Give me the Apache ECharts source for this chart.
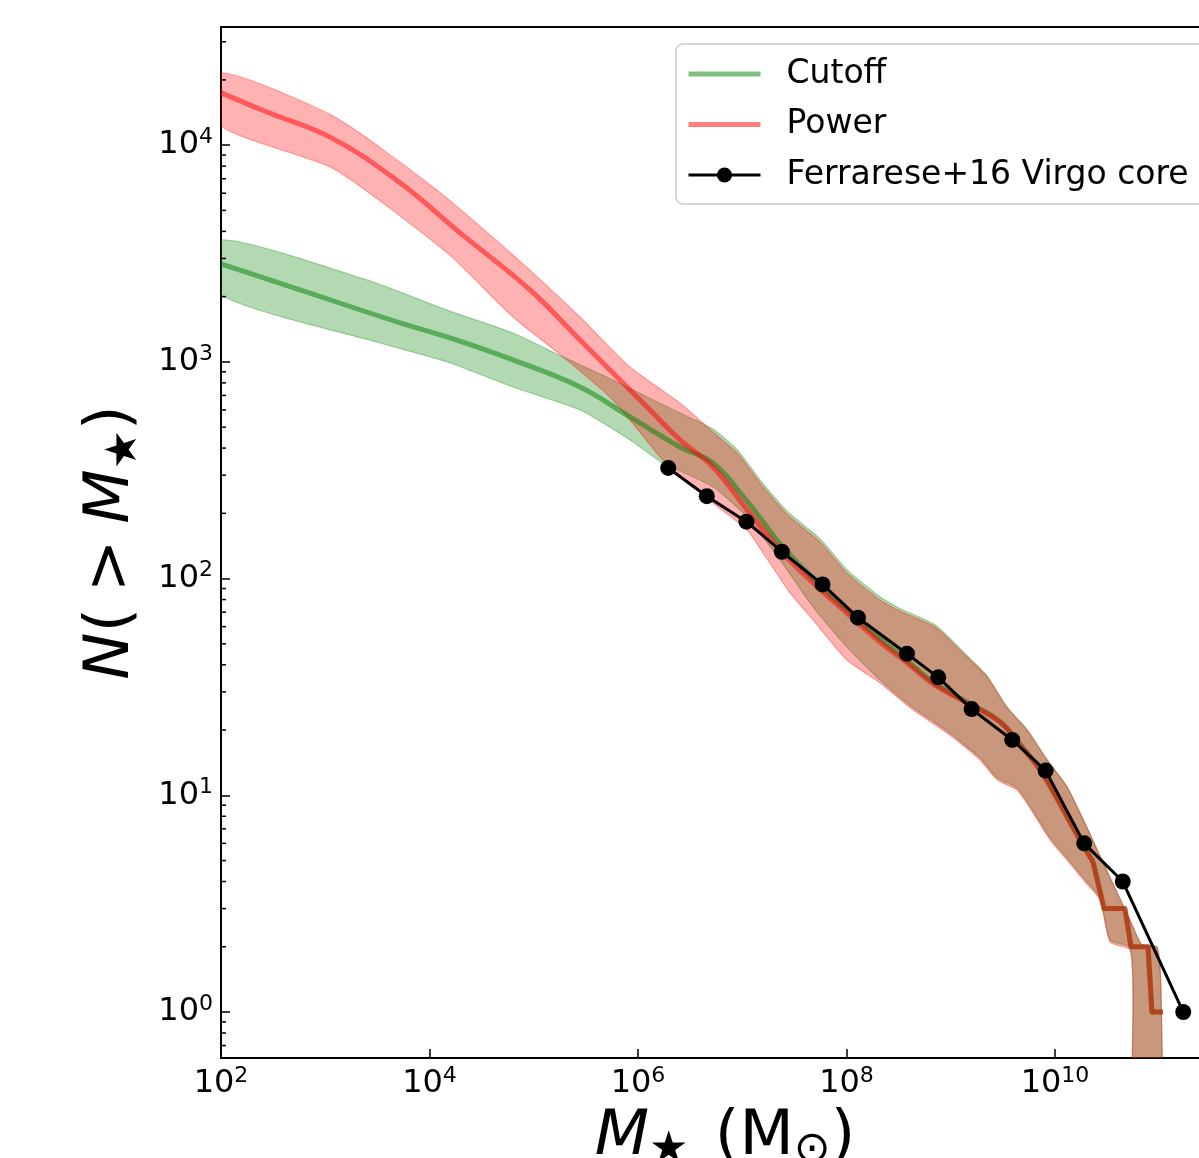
<!DOCTYPE html>
<html>
<head>
<meta charset="utf-8">
<script src="https://cdn.jsdelivr.net/npm/echarts@6/dist/echarts.min.js"></script>
<style>
  html, body { margin: 0; padding: 0; overflow: hidden; background: #fff; }
  #chart { width: 1400px; height: 1158px; }
</style>
</head>
<body>
<div id="chart"></div>
<script>
// Cumulative stellar mass function N(>M*) of Virgo-core satellites:
// model medians with 68% bands (log10 M*, log10 N) and the observed counts.

// Cutoff model
const cutoffMedLogM = [2.000, 2.758, 3.717, 4.168, 4.801, 5.444, 5.923, 6.403, 6.719, 7.046, 7.199, 7.362, 7.679, 8.005, 8.321, 8.580, 8.830, 9.156, 9.472, 9.664, 9.856, 10.000, 10.211, 10.365, 10.470, 10.671, 10.729, 10.892, 10.930, 11.036];
const cutoffMedLogN = [3.452, 3.332, 3.180, 3.115, 3.009, 2.884, 2.746, 2.607, 2.533, 2.357, 2.262, 2.160, 2.000, 1.855, 1.722, 1.622, 1.522, 1.430, 1.340, 1.235, 1.120, 1.003, 0.820, 0.694, 0.477, 0.477, 0.301, 0.301, 0.000, 0.000];
const cutoffHiLogM = [2.000, 3.400, 4.168, 4.801, 5.281, 5.760, 6.403, 6.719, 6.950, 7.199, 7.458, 7.746, 8.005, 8.321, 8.513, 8.849, 9.156, 9.348, 9.540, 9.731, 9.923, 10.115, 10.317, 10.480, 10.719, 10.835, 10.979, 11.017, 11.017];
const cutoffHiLogN = [3.563, 3.378, 3.239, 3.133, 3.023, 2.916, 2.764, 2.690, 2.595, 2.438, 2.299, 2.184, 2.041, 1.916, 1.862, 1.787, 1.645, 1.552, 1.408, 1.305, 1.166, 1.040, 0.842, 0.670, 0.425, 0.309, 0.300, 0.102, -1];
const cutoffLoLogM = [2.000, 3.525, 4.168, 4.801, 5.444, 5.923, 6.240, 6.719, 7.046, 7.362, 7.679, 8.005, 8.321, 8.638, 8.964, 9.281, 9.444, 9.635, 9.789, 9.952, 10.115, 10.288, 10.432, 10.528, 10.719, 10.748, 10.748];
const cutoffLoLogN = [3.309, 3.087, 3.000, 2.884, 2.778, 2.640, 2.533, 2.423, 2.284, 2.086, 1.869, 1.684, 1.532, 1.404, 1.297, 1.173, 1.081, 1.034, 0.928, 0.804, 0.711, 0.610, 0.527, 0.333, 0.296, 0.078, -1];

// Power-law model
const powerMedLogM = [2.000, 2.441, 3.074, 3.717, 4.293, 4.964, 5.444, 5.760, 6.086, 6.403, 6.719, 7.046, 7.362, 7.679, 8.005, 8.321, 8.580, 8.830, 9.156, 9.472, 9.664, 9.856, 10.000, 10.211, 10.365, 10.470, 10.671, 10.729, 10.892, 10.930, 11.036];
const powerMedLogN = [4.241, 4.153, 4.030, 3.826, 3.595, 3.332, 3.101, 2.949, 2.792, 2.640, 2.515, 2.317, 2.132, 1.980, 1.841, 1.707, 1.611, 1.514, 1.426, 1.338, 1.232, 1.117, 1.001, 0.817, 0.692, 0.477, 0.477, 0.301, 0.301, 0.000, 0.000];
const powerHiLogM = [2.000, 3.074, 4.034, 4.801, 5.444, 5.923, 6.403, 6.719, 6.950, 7.199, 7.458, 7.746, 8.005, 8.321, 8.513, 8.849, 9.156, 9.348, 9.540, 9.731, 9.923, 10.115, 10.317, 10.480, 10.719, 10.835, 10.979, 11.017, 11.017];
const powerHiLogN = [4.333, 4.135, 3.807, 3.493, 3.207, 2.976, 2.810, 2.676, 2.580, 2.423, 2.284, 2.169, 2.026, 1.901, 1.850, 1.777, 1.638, 1.546, 1.403, 1.301, 1.163, 1.038, 0.840, 0.669, 0.425, 0.309, 0.300, 0.102, -1];
const powerLoLogM = [2.000, 3.074, 4.168, 4.801, 5.281, 5.760, 6.240, 6.719, 7.046, 7.199, 7.458, 7.679, 8.005, 8.321, 8.638, 8.964, 9.281, 9.444, 9.635, 9.789, 9.952, 10.115, 10.288, 10.432, 10.528, 10.719, 10.748, 10.748];
const powerLoLogN = [4.089, 3.892, 3.503, 3.207, 3.023, 2.824, 2.547, 2.349, 2.224, 2.118, 1.934, 1.809, 1.624, 1.518, 1.394, 1.287, 1.163, 1.071, 1.024, 0.918, 0.794, 0.701, 0.600, 0.517, 0.323, 0.286, 0.078, -1];

// Ferrarese et al. (2016) Virgo core counts
const virgoLogM = [6.29, 6.66, 7.04, 7.38, 7.77, 8.11, 8.58, 8.88, 9.20, 9.59, 9.91, 10.28, 10.65, 11.23];
const virgoN = [324, 240, 183, 133, 94, 66, 45, 35, 25, 18, 13, 6, 4, 1];

// Axis ranges and minor tick positions of the N axis
const xMin = 100, xMax = Math.pow(10, 11.669);
const yMin = 0.6133, yMax = 35090;
const yMinorTicks = [0.7, 0.8, 0.9, 2, 3, 4, 5, 6, 7, 8, 9, 20, 30, 40, 50, 60, 70, 80, 90,
  200, 300, 400, 500, 600, 700, 800, 900, 2000, 3000, 4000, 5000, 6000, 7000, 8000, 9000, 20000, 30000];
// Medians are drawn as smooth curves below this log mass and as integer steps above it
const stepStartLogM = 10.3;

const FONT = 'DejaVu Sans';
const GREEN = [0, 128, 0];
const RED = [255, 0, 0];
const rgba = (c, a) => `rgba(${c[0]},${c[1]},${c[2]},${a})`;
const toPts = (lm, ln) => lm.map((m, i) => [Math.pow(10, m), Math.pow(10, ln[i])]);

function powLabel(v) {
  const e = Math.log10(v);
  const r = Math.round(e);
  if (Math.abs(e - r) > 1e-6) return '';
  return '{b|10}{s|' + r + '}';
}
const tickRich = {
  b: { fontFamily: FONT, fontSize: 32, color: '#000', lineHeight: 38 },
  s: { fontFamily: FONT, fontSize: 22, color: '#000', verticalAlign: 'top', lineHeight: 22 }
};
const titleRich = {
  i: { fontFamily: FONT, fontSize: 63, fontStyle: 'italic', color: '#000', lineHeight: 70 },
  n: { fontFamily: FONT, fontSize: 63, color: '#000', lineHeight: 70 },
  s: { fontFamily: FONT, fontSize: 44, color: '#000', verticalAlign: 'bottom', lineHeight: 44 }
};

function band(name, hiM, hiN, loM, loN, color) {
  const pts = toPts(hiM, hiN).concat(toPts(loM, loN).reverse());
  return {
    type: 'custom', name: name, silent: true, clip: true,
    data: pts, encode: { x: 0, y: 1 },
    renderItem: function (params, api) {
      if (params.dataIndex !== 0) return null;
      const cs = params.coordSys;
      return {
        type: 'group',
        clipPath: { type: 'rect', shape: { x: cs.x, y: cs.y, width: cs.width, height: cs.height } },
        children: [{
          type: 'polygon',
          shape: { points: pts.map(p => api.coord(p)), smooth: 0.2 },
          style: { fill: rgba(color, 0.3), stroke: rgba(color, 0.3), lineWidth: 1.2 }
        }]
      };
    }
  };
}

// A median curve: smooth part plus the stepped high-mass tail (same legend name)
function median(name, lm, ln, color) {
  const pts = toPts(lm, ln);
  const k = lm.findIndex(m => m >= stepStartLogM);
  const common = {
    type: 'line', name: name, symbol: 'none', showSymbol: false, silent: true,
    lineStyle: { color: rgba(color, 0.5), width: 5, join: 'round' },
    itemStyle: { color: rgba(color, 0.5) }
  };
  return [
    Object.assign({}, common, { data: pts.slice(0, k + 1), smooth: 0.4 }),
    Object.assign({}, common, { data: pts.slice(k) })
  ];
}

const chart = echarts.init(document.getElementById('chart'), null, { renderer: 'canvas' });
chart.setOption({
  animation: false,
  backgroundColor: '#fff',
  grid: {
    left: 221, top: 27, width: 1008, height: 1031,
    show: true, borderColor: '#000', borderWidth: 2, backgroundColor: 'transparent',
    containLabel: false, outerBoundsMode: 'none'
  },
  legend: {
    left: 676, top: 44, orient: 'vertical',
    selectedMode: false,
    itemWidth: 72, itemHeight: 19, itemGap: 14.5,
    padding: [12, 20, 11, 10],
    backgroundColor: '#fff', borderColor: '#cccccc', borderWidth: 1.5, borderRadius: 7,
    textStyle: { fontFamily: FONT, fontSize: 33, color: '#000', lineHeight: 36, padding: [0, 0, 0, 21] },
    data: [
      { name: 'Cutoff', itemStyle: { opacity: 0 }, lineStyle: { width: 5 } },
      { name: 'Power', itemStyle: { opacity: 0 }, lineStyle: { width: 5 } },
      { name: 'Ferrarese+16 Virgo core', lineStyle: { width: 3 } }
    ]
  },
  xAxis: {
    type: 'log', logBase: 10, min: xMin, max: xMax, interval: 2,
    axisLine: { show: true, lineStyle: { color: '#000', width: 2 } },
    axisTick: { show: true, inside: true, length: 9, lineStyle: { color: '#000', width: 1.5 } },
    axisLabel: { margin: 7, formatter: powLabel, rich: tickRich, showMinLabel: true, showMaxLabel: false },
    splitLine: { show: false },
    name: '{i|M}{s|★}{n| \u200a(M}{s|⊙}{n|)}',
    nameLocation: 'middle', nameGap: 45,
    nameTextStyle: { rich: titleRich }
  },
  yAxis: {
    type: 'log', logBase: 10, min: yMin, max: yMax,
    axisLine: { show: true, lineStyle: { color: '#000', width: 2 } },
    axisTick: { show: true, inside: true, length: 9, lineStyle: { color: '#000', width: 1.5 } },
    axisLabel: { margin: 8, formatter: powLabel, rich: tickRich, showMinLabel: false, showMaxLabel: false },
    splitLine: { show: false },
    name: '{i|N}{n|(\u2005>\u2005}{i|M}{s|★}{n|)}',
    nameLocation: 'middle', nameGap: 74,
    nameTextStyle: { rich: titleRich }
  },
  series: [
    band('Cutoff range', cutoffHiLogM, cutoffHiLogN, cutoffLoLogM, cutoffLoLogN, GREEN),
    ...median('Cutoff', cutoffMedLogM, cutoffMedLogN, GREEN),
    band('Power range', powerHiLogM, powerHiLogN, powerLoLogM, powerLoLogN, RED),
    ...median('Power', powerMedLogM, powerMedLogN, RED),
    {
      type: 'custom', name: 'minor ticks', silent: true,
      data: yMinorTicks.map(v => [xMin, v]), encode: { x: 0, y: 1 },
      renderItem: function (params, api) {
        const p = api.coord([api.value(0), api.value(1)]);
        return { type: 'line', shape: { x1: p[0], y1: p[1], x2: p[0] + 5, y2: p[1] },
                 style: { stroke: '#000', lineWidth: 1.5 } };
      }
    },
    {
      type: 'line', name: 'Ferrarese+16 Virgo core',
      data: toPts(virgoLogM, virgoN.map(Math.log10)),
      symbol: 'circle', symbolSize: 16, silent: true,
      lineStyle: { color: '#000', width: 3 },
      itemStyle: { color: '#000' }
    }
  ]
});
</script>
</body>
</html>
